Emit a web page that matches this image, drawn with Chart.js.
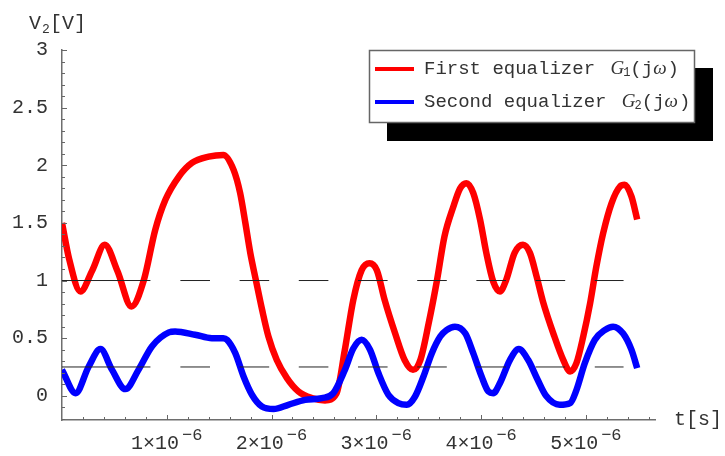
<!DOCTYPE html>
<html>
<head>
<meta charset="utf-8">
<script src="https://cdn.jsdelivr.net/npm/chart.js@4.4.1/dist/chart.umd.min.js"></script>
<style>
  html, body { margin: 0; padding: 0; background: #fff; }
</style>
</head>
<body>
<canvas id="equalizerChart" width="725" height="456"></canvas>
<script>
"use strict"

// time in units of 1e-6 s, voltage in V
const timeFirst = [0, 0.07, 0.176, 0.29, 0.408, 0.53, 0.663, 0.78, 0.89, 0.987, 1.114, 1.24, 1.40, 1.54, 1.638, 1.70, 1.75, 1.797, 1.85, 1.91, 1.97, 2.05, 2.147, 2.257, 2.385, 2.51, 2.62, 2.70, 2.78, 2.86, 2.935, 3.005, 3.08, 3.18, 3.27, 3.35, 3.42, 3.50, 3.58, 3.65, 3.735, 3.80, 3.86, 3.925, 3.99, 4.05, 4.116, 4.18, 4.24, 4.32, 4.40, 4.466, 4.53, 4.59, 4.70, 4.785, 4.85, 4.91, 4.975, 5.04, 5.10, 5.165, 5.245, 5.325, 5.37, 5.435, 5.49];
const voltFirst = [1.50, 1.18, 0.905, 1.09, 1.31, 1.08, 0.775, 1.0, 1.44, 1.70, 1.90, 2.02, 2.075, 2.09, 1.96, 1.76, 1.50, 1.24, 1.006, 0.746, 0.515, 0.31, 0.153, 0.037, -0.02, -0.04, 0.02, 0.40, 0.83, 1.09, 1.15, 1.09, 0.83, 0.54, 0.31, 0.225, 0.31, 0.63, 1.006, 1.38, 1.64, 1.80, 1.845, 1.76, 1.53, 1.24, 0.99, 0.905, 1.006, 1.24, 1.31, 1.24, 1.035, 0.82, 0.514, 0.31, 0.21, 0.283, 0.514, 0.80, 1.12, 1.41, 1.67, 1.815, 1.83, 1.73, 1.53];

const timeSecond = [0, 0.13, 0.255, 0.367, 0.478, 0.605, 0.73, 0.86, 1.02, 1.08, 1.27, 1.43, 1.54, 1.575, 1.654, 1.733, 1.813, 1.908, 2.02, 2.16, 2.32, 2.48, 2.59, 2.70, 2.78, 2.86, 2.94, 3.02, 3.115, 3.21, 3.29, 3.37, 3.45, 3.53, 3.61, 3.67, 3.75, 3.85, 3.925, 4.005, 4.07, 4.116, 4.18, 4.275, 4.36, 4.45, 4.54, 4.62, 4.75, 4.85, 4.91, 4.99, 5.086, 5.18, 5.26, 5.356, 5.435, 5.49];
const voltSecond = [0.225, 0.023, 0.254, 0.405, 0.225, 0.058, 0.225, 0.43, 0.55, 0.558, 0.53, 0.50, 0.50, 0.486, 0.37, 0.167, 0.009, -0.093, -0.115, -0.078, -0.035, -0.02, 0.023, 0.225, 0.41, 0.486, 0.40, 0.197, 0.009, -0.063, -0.078, -0.006, 0.167, 0.37, 0.514, 0.57, 0.60, 0.54, 0.37, 0.167, 0.037, 0.023, 0.11, 0.31, 0.405, 0.31, 0.139, 0.0, -0.078, -0.063, 0.05, 0.283, 0.486, 0.57, 0.60, 0.54, 0.40, 0.24];

const seriesNames = ["First equalizer", "Second equalizer"];
const gainIndex = ["1", "2"];

// threshold levels, solid part then dashed part
const refLevels = [1, 0.25];
const refTimes = [0, 0.844, 0.99, 1.13, 5.36];

const xTickValues = [1, 2, 3, 4, 5];
const xTickExponent = "-6";
const yTickValues = [0, 0.5, 1, 1.5, 2, 2.5, 3];

const MONO = '"Liberation Mono", "DejaVu Sans Mono", monospace';

function toPoints(xs, ys) {
    return xs.map((x, i) => ({x: x, y: ys[i]}));
}

let datasets = [];
refLevels.forEach(level => {
    datasets.push({
        data: refTimes.map((t, i) => ({x: t, y: i === 2 ? null : level})),
        borderColor: '#222',
        borderWidth: 1,
        pointRadius: 0,
        tension: 0,
        spanGaps: false,
        order: 0,
        segment: {
            borderDash: c => c.p0DataIndex >= 2 ? [29.6, 29.6] : undefined
        }
    });
});
datasets.push({
    label: seriesNames[1],
    data: toPoints(timeSecond, voltSecond),
    borderColor: '#0000ff',
    borderWidth: 6.5,
    pointRadius: 0,
    cubicInterpolationMode: 'monotone',
    order: 1
});
datasets.push({
    label: seriesNames[0],
    data: toPoints(timeFirst, voltFirst),
    borderColor: '#ff0000',
    borderWidth: 6.5,
    pointRadius: 0,
    cubicInterpolationMode: 'monotone',
    order: 2
});

const decorations = {
    id: 'decorations',
    afterDraw(chart) {
        const ctx = chart.ctx;
        const xs = chart.scales.x, ys = chart.scales.y;
        const area = chart.chartArea;
        ctx.save();

        // inward tick marks
        ctx.strokeStyle = '#666';
        ctx.lineWidth = 1;
        for (let i = 1; i <= 28; i++) {
            const v = i * 0.2;
            const px = Math.round(xs.getPixelForValue(v)) + 0.5;
            const len = (i % 5 === 0) ? 5 : 3;
            ctx.beginPath();
            ctx.moveTo(px, area.bottom);
            ctx.lineTo(px, area.bottom - len);
            ctx.stroke();
        }
        for (let i = -2; i <= 30; i++) {
            const v = i * 0.1;
            const py = Math.round(ys.getPixelForValue(v)) + 0.5;
            const len = (i % 5 === 0) ? 5 : 3;
            ctx.beginPath();
            ctx.moveTo(area.left, py);
            ctx.lineTo(area.left + len, py);
            ctx.stroke();
        }

        // x tick labels with superscript exponent
        ctx.fillStyle = '#333';
        ctx.textBaseline = 'alphabetic';
        ctx.textAlign = 'left';
        xTickValues.forEach(v => {
            const base = v + '\u00d710';
            const exp = xTickExponent.replace('-', '\u2212');
            ctx.font = '20px ' + MONO;
            const wb = ctx.measureText(base).width;
            ctx.font = '17px ' + MONO;
            const we = ctx.measureText(exp).width;
            const total = wb + 3 + we;
            let x = xs.getPixelForValue(v) - total / 2;
            ctx.font = '20px ' + MONO;
            ctx.fillText(base, x, area.bottom + 29);
            ctx.font = '17px ' + MONO;
            ctx.fillText(exp, x + wb + 3, area.bottom + 20);
        });

        // axis titles
        ctx.font = '20px ' + MONO;
        ctx.fillText('V', 29, 29);
        ctx.font = '13px ' + MONO;
        ctx.fillText('2', 42, 33);
        ctx.font = '20px ' + MONO;
        ctx.fillText('[V]', 50, 29);
        ctx.fillText('t[s]', 674, 425);

        // legend with drop shadow
        const lx = 369, ly = 50, lw = 325, lh = 72;
        ctx.fillStyle = '#000';
        ctx.fillRect(lx + 18, ly + 18, lw + 1, lh + 1);
        ctx.fillStyle = '#fff';
        ctx.fillRect(lx, ly, lw, lh);
        ctx.strokeStyle = '#666';
        ctx.lineWidth = 1.5;
        ctx.strokeRect(lx + 0.5, ly + 0.5, lw, lh);

        const colors = ['#ff0000', '#0000ff'];
        seriesNames.forEach((name, i) => {
            const y = ly + 19 + i * 33;
            ctx.strokeStyle = colors[i];
            ctx.lineWidth = 4;
            ctx.beginPath();
            ctx.moveTo(lx + 6, y);
            ctx.lineTo(lx + 45, y);
            ctx.stroke();

            ctx.fillStyle = '#333';
            ctx.textBaseline = 'middle';
            ctx.font = '19px ' + MONO;
            let x = lx + 55;
            ctx.fillText(name, x, y);
            x += ctx.measureText(name + ' ').width + 4;
            ctx.font = 'italic 19px "Liberation Serif", serif';
            ctx.fillText('G', x, y);
            x += ctx.measureText('G').width - 1;
            ctx.font = '12px ' + MONO;
            ctx.fillText(gainIndex[i], x, y + 4);
            x += ctx.measureText(gainIndex[i]).width;
            ctx.font = '19px ' + MONO;
            ctx.fillText('(j', x, y);
            x += ctx.measureText('(j').width;
            ctx.font = 'italic 19px "Liberation Serif", serif';
            ctx.fillText('\u03c9', x, y);
            x += ctx.measureText('\u03c9').width + 1;
            ctx.font = '19px ' + MONO;
            ctx.fillText(')', x, y);
        });

        ctx.restore();
    }
};

Chart.defaults.font.family = MONO;
Chart.defaults.color = '#333';

new Chart(document.getElementById('equalizerChart'), {
    type: 'line',
    data: {datasets: datasets},
    options: {
        responsive: false,
        animation: false,
        layout: {padding: {left: 0, right: 70, top: 50, bottom: 0}},
        plugins: {
            legend: {display: false},
            tooltip: {enabled: false}
        },
        scales: {
            x: {
                type: 'linear',
                min: 0,
                max: 5.66,
                afterBuildTicks: s => { s.ticks = xTickValues.map(v => ({value: v})); },
                afterFit: s => { s.height = 36; },
                ticks: {display: false},
                grid: {display: true, drawOnChartArea: false, drawTicks: false},
                border: {color: '#6e6e6e', width: 1.5}
            },
            y: {
                type: 'linear',
                min: -0.21,
                max: 3,
                afterBuildTicks: s => { s.ticks = yTickValues.map(v => ({value: v})); },
                afterFit: s => { s.width = 62; },
                ticks: {
                    font: {size: 20},
                    padding: 14,
                    callback: v => String(v)
                },
                grid: {display: true, drawOnChartArea: false, drawTicks: false},
                border: {color: '#6e6e6e', width: 1.5}
            }
        }
    },
    plugins: [decorations]
});
</script>
</body>
</html>
